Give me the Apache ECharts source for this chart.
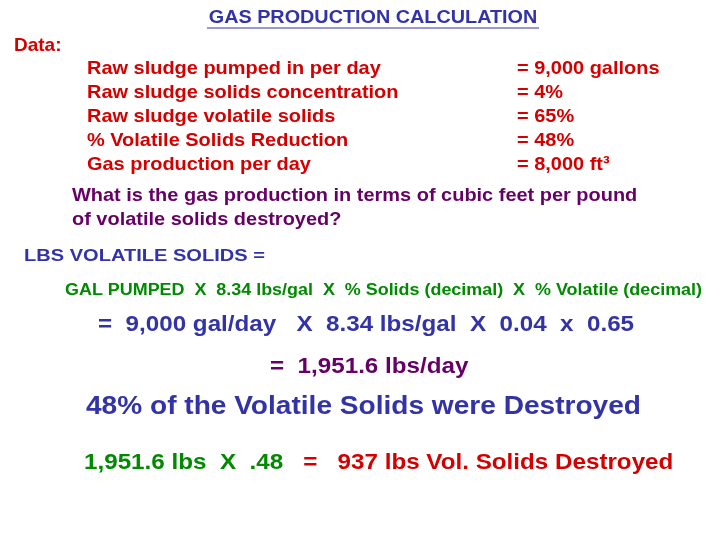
<!DOCTYPE html>
<html><head><meta charset="utf-8">
<script src="https://cdn.jsdelivr.net/npm/echarts@6/dist/echarts.min.js"></script>
<style>html,body{margin:0;background:#fff}#c{width:720px;height:540px}</style>
</head><body><div id="c"></div>
<script>
// slide text content
const title = 'GAS PRODUCTION CALCULATION';
const dataLabels = ['Raw sludge pumped in per day', 'Raw sludge solids concentration',
  'Raw sludge volatile solids', '% Volatile Solids Reduction', 'Gas production per day'];
const dataValues = ['= 9,000 gallons', '= 4%', '= 65%', '= 48%', '= 8,000 ft³'];
const question = ['What is the gas production in terms of cubic feet per pound', 'of volatile solids destroyed?'];
const formulaHead = 'LBS VOLATILE SOLIDS =';
const formula = 'GAL PUMPED  X  8.34 lbs/gal  X  % Solids (decimal)  X  % Volatile (decimal)';
const substituted = '=  9,000 gal/day   X  8.34 lbs/gal  X  0.04  x  0.65';
const result = '=  1,951.6 lbs/day';
const destroyedNote = '48% of the Volatile Solids were Destroyed';
const finalLeft = '1,951.6 lbs  X  .48   ';
const finalRight = '=   937 lbs Vol. Solids Destroyed';

const BLUE = '#3333a8', RED = '#d40000', PURPLE = '#660066', GREEN = '#008a00';
const FONT = '"Liberation Sans", Arial, sans-serif';

function txt(x, y, s, size, color, align, sx) {
  return { type: 'text', x, y, scaleX: sx || 1, style: { text: s, fill: color, font: 'bold ' + size + 'px ' + FONT,
    textAlign: align || 'left', textVerticalAlign: 'middle' } };
}

const g = [];
g.push(txt(373, 18, title, 18, BLUE, 'center', 1.1));
g.push({ type: 'line', shape: { x1: 207, y1: 28, x2: 539, y2: 28 }, style: { stroke: BLUE, lineWidth: 1.2 } });
g.push(txt(14, 46, 'Data:', 19, RED));
dataLabels.forEach((s, i) => {
  g.push(txt(87, 69 + i * 24, s, 19, RED, 'left', 1.05));
  g.push(txt(517, 69 + i * 24, dataValues[i], 19, RED, 'left', 1.05));
});
question.forEach((s, i) => g.push(txt(72, 196 + i * 24, s, 19, PURPLE, 'left', 1.05)));
g.push(txt(24, 256, formulaHead, 17, BLUE, 'left', 1.18));
g.push(txt(65, 291, formula, 16, GREEN, 'left', 1.12));
g.push(txt(98, 325, substituted, 22, BLUE, 'left', 1.1));
g.push(txt(270, 367, result, 22, PURPLE, 'left', 1.1));
g.push(txt(86, 407, destroyedNote, 26, BLUE, 'left', 1.08));
g.push({ type: 'text', x: 84, y: 463, scaleX: 1.1, style: {
  text: '{a|' + finalLeft + '}{b|' + finalRight + '}', textVerticalAlign: 'middle',
  rich: { a: { fill: GREEN, font: 'bold 22px ' + FONT }, b: { fill: RED, font: 'bold 22px ' + FONT } } } });

const chart = echarts.init(document.getElementById('c'));
chart.setOption({ backgroundColor: '#fff', graphic: { elements: g } });
</script></body></html>
